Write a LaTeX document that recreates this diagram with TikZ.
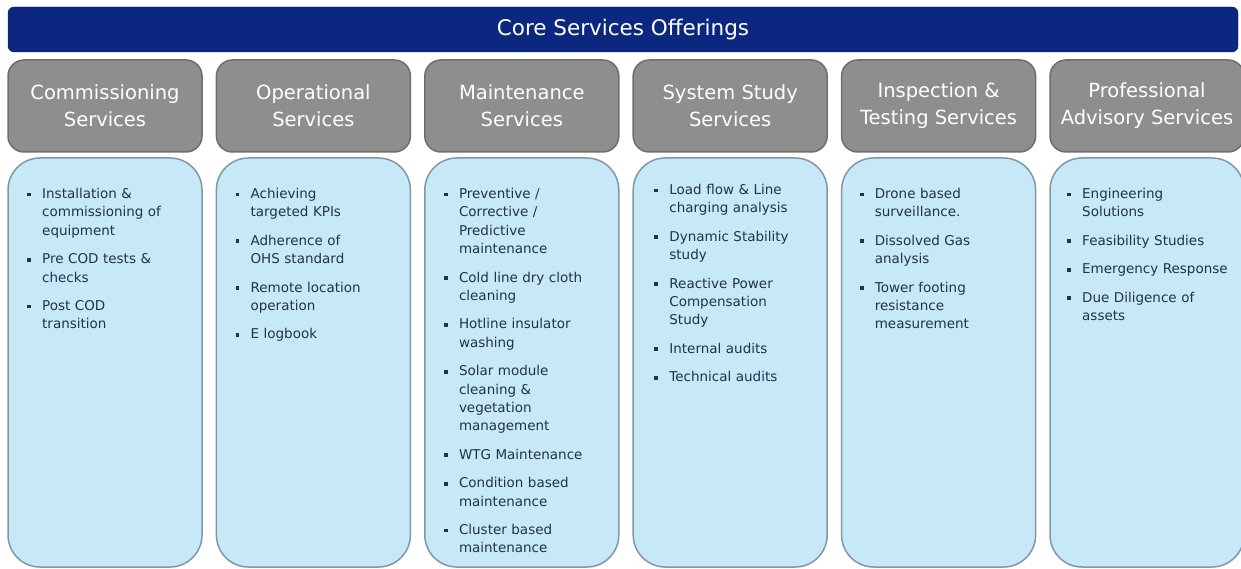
\documentclass[tikz,border=0pt]{standalone}
\usepackage{fontspec}
\setmainfont{DejaVu Sans}
\usetikzlibrary{positioning}
\definecolor{navyBar}{HTML}{0C2780}
\definecolor{navyBorde}{HTML}{0A1C58}
\definecolor{grisCabecera}{HTML}{8E8E8E}
\definecolor{grisBorde}{HTML}{6E6E6E}
\definecolor{azulPanel}{HTML}{C6E8F7}
\definecolor{azulBorde}{HTML}{8097A6}
\definecolor{textoLista}{HTML}{22324A}
\newcommand{\servicio}[1]{\par\hangindent=15pt\hangafter=1\noindent\strut\makebox[15pt][l]{\raisebox{2.2pt}{\rule{3.8pt}{3.8pt}}}#1\par}

\begin{document}
\begin{tikzpicture}[x=1pt, y=1pt,
        bar/.style={draw=navyBorde, fill=navyBar, rounded corners=6pt, minimum width=1230pt,
            minimum height=45pt, outer sep=0pt, text=white, font=\fontsize{21.5}{24}\selectfont},
        head/.style={draw=grisBorde, fill=grisCabecera, line width=1.5pt, rounded corners=16pt,
            minimum width=194pt, minimum height=92pt, inner sep=0pt, outer sep=0pt, align=center,
            text=white, font=\fontsize{19.5}{27}\selectfont},
        panel/.style={draw=azulBorde, fill=azulPanel, line width=1.5pt, rounded corners=32pt,
            minimum width=194pt, minimum height=409pt, outer sep=0pt},
        lista/.style={anchor=north west, inner sep=0pt, text width=172pt, align=left, text=textoLista,
            font=\fontsize{13.5}{18.4}\selectfont, execute at begin node={\setlength{\parskip}{10pt}}}
    ]
        \useasboundingbox (0,0) rectangle (1241,-569);
        \node[bar] (titulo) at (623,-29.5) {Core Services Offerings};

        \node[head] (hd1) at (105,-106) {Commissioning\\Services};
        \node[head, right=14.4pt of hd1] (hd2) {Operational\\Services};
        \node[head, right=14.4pt of hd2] (hd3) {Maintenance\\Services};
        \node[head, right=14.4pt of hd3] (hd4) {System Study\\Services};
        \node[head, right=14.4pt of hd4] (hd5) {Inspection \&\\Testing Services};
        \node[head, right=14.4pt of hd5] (hd6) {Professional\\Advisory Services};

        \node[panel, below=6pt of hd1] (pn1) {};
        \node[panel, below=6pt of hd2] (pn2) {};
        \node[panel, below=6pt of hd3] (pn3) {};
        \node[panel, below=6pt of hd4] (pn4) {};
        \node[panel, below=6pt of hd5] (pn5) {};
        \node[panel, below=6pt of hd6] (pn6) {};

        \node[lista] (ls1) at ([xshift=19pt, yshift=-12pt]pn1.north west) {%
            \servicio{Installation \&\newline commissioning of\newline equipment}
            \servicio{Pre COD tests \&\newline checks}
            \servicio{Post COD\newline transition}};
        \node[lista] (ls2) at ([xshift=19pt, yshift=-12pt]pn2.north west) {%
            \servicio{Achieving\newline targeted KPIs}
            \servicio{Adherence of\newline OHS standard}
            \servicio{Remote location\newline operation}
            \servicio{E logbook}};
        \node[lista] (ls3) at ([xshift=19pt, yshift=-12pt]pn3.north west) {%
            \servicio{Preventive /\newline Corrective /\newline Predictive\newline maintenance}
            \servicio{Cold line dry cloth\newline cleaning}
            \servicio{Hotline insulator\newline washing}
            \servicio{Solar module\newline cleaning \&\newline vegetation\newline management}
            \servicio{WTG Maintenance}
            \servicio{Condition based\newline maintenance}
            \servicio{Cluster based\newline maintenance}};
        \node[lista] (ls4) at ([xshift=21pt, yshift=-8pt]pn4.north west) {%
            \servicio{Load flow \& Line\newline charging analysis}
            \servicio{Dynamic Stability\newline study}
            \servicio{Reactive Power\newline Compensation\newline Study}
            \servicio{Internal audits}
            \servicio{Technical audits}};
        \node[lista] (ls5) at ([xshift=18pt, yshift=-12pt]pn5.north west) {%
            \servicio{Drone based\newline surveillance.}
            \servicio{Dissolved Gas\newline analysis}
            \servicio{Tower footing\newline resistance\newline measurement}};
        \node[lista] (ls6) at ([xshift=17pt, yshift=-12pt]pn6.north west) {%
            \servicio{Engineering\newline Solutions}
            \servicio{Feasibility Studies}
            \servicio{Emergency Response}
            \servicio{Due Diligence of\newline assets}};
    \end{tikzpicture}
\end{document}
